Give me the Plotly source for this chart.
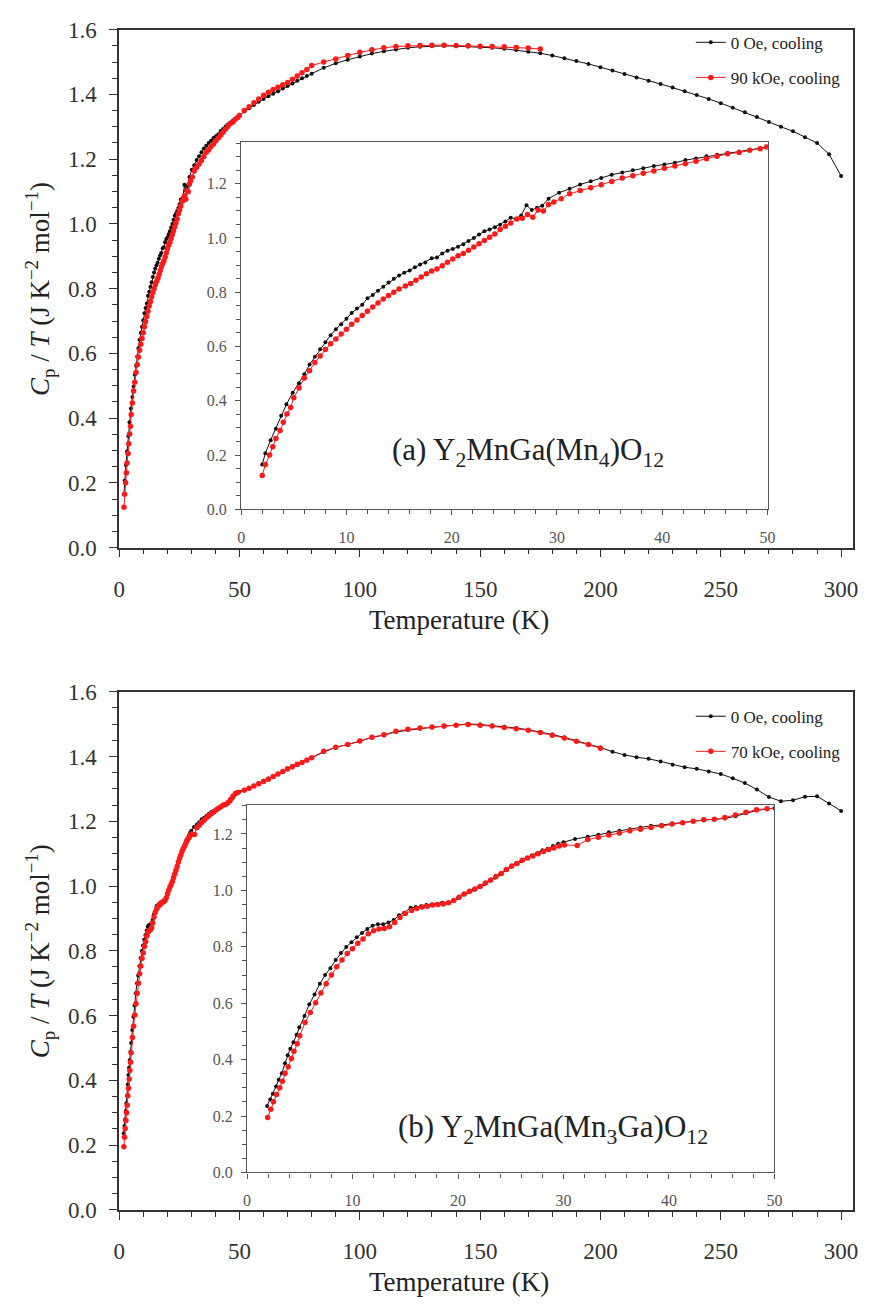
import plotly.graph_objects as go

# ---------------- Panel (a): Y2MnGa(Mn4)O12 ----------------
# 0 Oe, cooling
T_A_ZERO = [2.0, 2.3, 2.8, 3.3, 3.8, 4.3, 4.9, 5.5, 6.0, 6.5, 7.0, 7.5, 8.0, 8.5, 9.0, 9.5,
            10.0, 10.5, 11.0, 11.5, 12.0, 12.5, 13.0, 13.5, 14.0, 14.5, 15.0, 15.5, 16.0, 16.5,
            17.0, 17.5, 18.1, 18.6, 19.1, 19.6, 20.1, 20.6, 21.1, 21.6, 22.1, 22.6, 23.1, 23.6,
            24.1, 24.6, 25.1, 25.6, 26.1, 26.6, 27.1, 27.6, 28.1, 28.6, 29.2, 30.2, 31.2, 32.2,
            33.2, 34.2, 35.2, 36.2, 37.2, 38.2, 39.2, 40.2, 41.2, 42.2, 43.2, 44.2, 45.2, 46.2,
            47.3, 48.3, 49.3, 50.0, 52, 54, 56, 58, 60, 62, 64, 66, 68, 70, 72, 74, 76, 78, 80,
            85, 90, 95, 100, 105, 110, 115, 120, 125, 130, 135, 140, 145, 150, 155, 160, 165,
            170, 175, 180, 185, 190, 195, 200, 205, 210, 215, 220, 225, 230, 235, 240, 245, 250,
            255, 260, 265, 270, 275, 280, 285, 290, 295, 300]
CP_A_ZERO = [0.165, 0.207, 0.255, 0.297, 0.345, 0.387, 0.430, 0.465, 0.498, 0.534, 0.562, 0.590,
             0.616, 0.642, 0.664, 0.682, 0.702, 0.724, 0.740, 0.754, 0.778, 0.790, 0.806, 0.820,
             0.836, 0.850, 0.862, 0.872, 0.880, 0.892, 0.902, 0.910, 0.925, 0.928, 0.943, 0.953,
             0.959, 0.968, 0.977, 0.989, 1.000, 1.013, 1.025, 1.031, 1.040, 1.049, 1.061, 1.075,
             1.070, 1.083, 1.121, 1.103, 1.111, 1.119, 1.145, 1.167, 1.181, 1.197, 1.209, 1.221,
             1.233, 1.241, 1.250, 1.257, 1.265, 1.271, 1.277, 1.287, 1.293, 1.301, 1.307, 1.313,
             1.319, 1.325, 1.331, 1.337, 1.347, 1.357, 1.367, 1.377, 1.386, 1.394, 1.402, 1.410,
             1.418, 1.426, 1.434, 1.442, 1.450, 1.457, 1.464, 1.482, 1.496, 1.507, 1.517, 1.526,
             1.533, 1.539, 1.544, 1.547, 1.549, 1.550, 1.549, 1.548, 1.546, 1.544, 1.541, 1.537,
             1.532, 1.527, 1.520, 1.512, 1.503, 1.494, 1.484, 1.474, 1.463, 1.452, 1.442, 1.432,
             1.421, 1.410, 1.398, 1.386, 1.373, 1.359, 1.345, 1.330, 1.315, 1.300, 1.286, 1.268,
             1.250, 1.215, 1.148]

# 90 kOe, cooling
T_A_FIELD = [2.0, 2.3, 2.7, 3.0, 3.3, 3.7, 4.0, 4.35, 4.7, 5.0, 5.5, 6.0, 6.5, 7.0, 7.5, 8.0,
             8.5, 9.0, 9.5, 10.0, 10.5, 11.0, 11.5, 12.0, 12.5, 13.0, 13.5, 14.0, 14.5, 15.0,
             15.6, 16.1, 16.6, 17.1, 17.6, 18.1, 18.6, 19.1, 19.6, 20.1, 20.6, 21.1, 21.6, 22.1,
             22.6, 23.1, 23.6, 24.1, 24.6, 25.1, 25.6, 26.2, 26.7, 27.2, 27.7, 28.2, 28.7, 29.2,
             29.7, 30.4, 31.2, 32.2, 33.2, 34.2, 35.2, 36.2, 37.2, 38.2, 39.2, 40.2, 41.2, 42.2,
             43.2, 44.2, 45.2, 46.2, 47.3, 48.3, 49.3, 49.9, 52, 54, 56, 58, 60, 62, 64, 66, 68,
             70, 72, 74, 76, 78, 80, 85, 90, 95, 100, 105, 110, 115, 120, 125, 130, 135, 140,
             145, 150, 155, 160, 165, 170, 175]
CP_A_FIELD = [0.125, 0.165, 0.200, 0.231, 0.261, 0.291, 0.321, 0.351, 0.375, 0.411, 0.447, 0.484,
              0.511, 0.541, 0.565, 0.589, 0.610, 0.628, 0.646, 0.664, 0.682, 0.698, 0.714, 0.730,
              0.746, 0.760, 0.775, 0.788, 0.800, 0.812, 0.823, 0.832, 0.844, 0.856, 0.868, 0.878,
              0.886, 0.898, 0.911, 0.923, 0.935, 0.943, 0.955, 0.967, 0.979, 0.991, 1.003, 1.015,
              1.031, 1.043, 1.055, 1.070, 1.073, 1.087, 1.076, 1.103, 1.099, 1.123, 1.133, 1.145,
              1.163, 1.175, 1.185, 1.196, 1.208, 1.221, 1.229, 1.239, 1.247, 1.257, 1.265, 1.274,
              1.283, 1.292, 1.301, 1.310, 1.315, 1.323, 1.329, 1.335, 1.350, 1.362, 1.374, 1.386,
              1.397, 1.407, 1.415, 1.422, 1.430, 1.437, 1.447, 1.457, 1.467, 1.477, 1.489, 1.500,
              1.509, 1.520, 1.530, 1.538, 1.544, 1.548, 1.550, 1.551, 1.552, 1.552, 1.551, 1.550,
              1.549, 1.548, 1.547, 1.545, 1.543, 1.540]

# ---------------- Panel (b): Y2MnGa(Mn3Ga)O12 ----------------
# 0 Oe, cooling
T_B_ZERO = [1.9, 2.2, 2.45, 2.75, 3.0, 3.3, 3.6, 3.85, 4.1, 4.4, 4.7, 4.95, 5.45, 5.9, 6.4, 6.9,
            7.4, 7.9, 8.4, 8.9, 9.4, 9.9, 10.4, 10.9, 11.4, 11.9, 12.4, 12.9, 13.4, 13.9, 14.4,
            14.9, 15.5, 16.0, 16.5, 17.0, 17.5, 18.0, 18.5, 19.0, 19.5, 20.0, 20.5, 21.0, 21.5,
            22.0, 22.5, 23.0, 23.5, 24.0, 24.5, 25.0, 25.5, 26.0, 26.5, 27.0, 27.5, 28.0, 28.5,
            29.0, 29.5, 30.0, 31.1, 32.3, 33.3, 34.3, 35.3, 36.3, 37.3, 38.3, 39.3, 40.3, 41.3,
            42.3, 43.3, 44.3, 45.3, 46.3, 47.3, 48.3, 49.3, 50.0, 52, 54, 56, 58, 60, 62, 64, 66,
            68, 70, 72, 74, 76, 78, 80, 85, 90, 95, 100, 105, 110, 115, 120, 125, 130, 135, 140,
            145, 150, 155, 160, 165, 170, 175, 180, 185, 190, 195, 200, 205, 210, 215, 220, 225,
            230, 235, 240, 245, 250, 255, 260, 265, 270, 275, 280, 285, 290, 295, 300]
CP_B_ZERO = [0.236, 0.259, 0.279, 0.305, 0.329, 0.352, 0.387, 0.416, 0.439, 0.462, 0.488, 0.515,
             0.555, 0.596, 0.631, 0.669, 0.700, 0.724, 0.753, 0.778, 0.799, 0.816, 0.834, 0.849,
             0.863, 0.875, 0.880, 0.880, 0.886, 0.895, 0.912, 0.921, 0.938, 0.941, 0.944, 0.948,
             0.950, 0.952, 0.956, 0.956, 0.962, 0.973, 0.985, 0.994, 1.002, 1.012, 1.022, 1.034,
             1.045, 1.057, 1.072, 1.084, 1.095, 1.103, 1.115, 1.124, 1.132, 1.142, 1.148, 1.157,
             1.165, 1.171, 1.182, 1.190, 1.197, 1.206, 1.211, 1.217, 1.223, 1.229, 1.232, 1.237,
             1.240, 1.245, 1.249, 1.252, 1.255, 1.263, 1.273, 1.283, 1.289, 1.291, 1.296, 1.302,
             1.310, 1.318, 1.325, 1.332, 1.339, 1.346, 1.353, 1.360, 1.366, 1.373, 1.380, 1.388,
             1.396, 1.414, 1.428, 1.437, 1.447, 1.459, 1.466, 1.476, 1.482, 1.486, 1.490, 1.493,
             1.497, 1.501, 1.499, 1.496, 1.492, 1.488, 1.483, 1.476, 1.468, 1.459, 1.449, 1.439,
             1.428, 1.415, 1.405, 1.398, 1.393, 1.385, 1.375, 1.367, 1.362, 1.354, 1.346, 1.333,
             1.318, 1.298, 1.275, 1.262, 1.265, 1.276, 1.277, 1.255, 1.232]

# 70 kOe, cooling
T_B_FIELD = [1.95, 2.25, 2.5, 2.8, 3.1, 3.35, 3.6, 3.9, 4.2, 4.45, 4.75, 5.0, 5.5, 6.0, 6.5, 7.0,
             7.5, 8.0, 8.5, 9.0, 9.5, 10.0, 10.5, 11.0, 11.5, 12.0, 12.5, 13.0, 13.5, 14.0, 14.5,
             15.0, 15.6, 16.1, 16.6, 17.1, 17.6, 18.1, 18.6, 19.1, 19.6, 20.1, 20.6, 21.1, 21.6,
             22.1, 22.6, 23.1, 23.6, 24.1, 24.6, 25.1, 25.6, 26.1, 26.6, 27.1, 27.6, 28.1, 28.6,
             29.1, 29.6, 30.1, 31.3, 32.3, 33.3, 34.3, 35.3, 36.3, 37.3, 38.3, 39.3, 40.3, 41.3,
             42.3, 43.3, 44.3, 45.3, 46.3, 47.3, 48.3, 49.3, 52, 54, 56, 58, 60, 62, 64, 66, 68,
             70, 72, 74, 76, 78, 80, 85, 90, 95, 100, 105, 110, 115, 120, 125, 130, 135, 140,
             145, 150, 155, 160, 165, 170, 175, 180, 185, 190, 195, 200]
CP_B_FIELD = [0.195, 0.224, 0.251, 0.276, 0.300, 0.323, 0.352, 0.375, 0.404, 0.430, 0.456, 0.485,
              0.532, 0.567, 0.602, 0.636, 0.669, 0.700, 0.729, 0.753, 0.776, 0.793, 0.813, 0.828,
              0.846, 0.857, 0.863, 0.865, 0.871, 0.886, 0.904, 0.918, 0.929, 0.936, 0.941, 0.944,
              0.948, 0.950, 0.952, 0.956, 0.964, 0.976, 0.987, 0.997, 1.005, 1.014, 1.026, 1.037,
              1.049, 1.060, 1.074, 1.086, 1.095, 1.107, 1.115, 1.122, 1.130, 1.138, 1.145, 1.150,
              1.157, 1.161, 1.159, 1.180, 1.188, 1.196, 1.203, 1.211, 1.217, 1.223, 1.229, 1.235,
              1.240, 1.245, 1.250, 1.252, 1.258, 1.267, 1.277, 1.286, 1.289, 1.296, 1.302, 1.309,
              1.316, 1.323, 1.330, 1.338, 1.346, 1.354, 1.362, 1.369, 1.376, 1.382, 1.389, 1.396,
              1.416, 1.429, 1.437, 1.448, 1.460, 1.467, 1.478, 1.484, 1.488, 1.491, 1.494, 1.497,
              1.499, 1.497, 1.494, 1.490, 1.486, 1.481, 1.474, 1.466, 1.457, 1.447, 1.437, 1.426]

LEGEND_A = ["0 Oe, cooling", "90 kOe, cooling"]
LEGEND_B = ["0 Oe, cooling", "70 kOe, cooling"]
LABEL_A = "(a) Y<sub>2</sub>MnGa(Mn<sub>4</sub>)O<sub>12</sub>"
LABEL_B = "(b) Y<sub>2</sub>MnGa(Mn<sub>3</sub>Ga)O<sub>12</sub>"
Y_TITLE = "<i>C</i><sub>p</sub> / <i>T</i> (J K<sup>\u22122</sup> mol<sup>\u22121</sup>)"
X_TITLE = "Temperature (K)"

W, H = 870, 1313
SERIF = "Liberation Serif, Times New Roman, Tinos, DejaVu Serif, serif"
BLACK = "#111111"
RED = "#ff1a1a"


def px(x):
    return x / W


def py(y):
    return 1 - y / H


fig = go.Figure()


def add_pair(t0, c0, t1, c1, xa, ya, legend_name, names, show):
    fig.add_trace(go.Scatter(
        x=t0, y=c0, mode="lines+markers", name=names[0], xaxis=xa, yaxis=ya,
        line=dict(color=BLACK, width=1), marker=dict(color=BLACK, size=4),
        legend=legend_name, legendgroup=legend_name + "0", showlegend=show))
    fig.add_trace(go.Scatter(
        x=t1, y=c1, mode="lines+markers", name=names[1], xaxis=xa, yaxis=ya,
        line=dict(color=RED, width=1), marker=dict(color=RED, size=5.5),
        legend=legend_name, legendgroup=legend_name + "1", showlegend=show))


add_pair(T_A_ZERO, CP_A_ZERO, T_A_FIELD, CP_A_FIELD, "x", "y", "legend", LEGEND_A, True)
add_pair(T_A_ZERO, CP_A_ZERO, T_A_FIELD, CP_A_FIELD, "x2", "y2", "legend", LEGEND_A, False)
add_pair(T_B_ZERO, CP_B_ZERO, T_B_FIELD, CP_B_FIELD, "x3", "y3", "legend2", LEGEND_B, True)
add_pair(T_B_ZERO, CP_B_ZERO, T_B_FIELD, CP_B_FIELD, "x4", "y4", "legend2", LEGEND_B, False)


def main_x(domain, anchor):
    return dict(domain=domain, anchor=anchor, range=[0, 305], dtick=50, tick0=0,
                showline=True, linecolor="#333", linewidth=1.5, mirror=True,
                ticks="outside", ticklen=8, tickwidth=1.3, tickcolor="#333",
                minor=dict(dtick=10, ticks="outside", ticklen=5, tickcolor="#333", tickwidth=1),
                tickfont=dict(family=SERIF, size=23, color="#333"), ticklabelstandoff=12,
                showgrid=False, zeroline=False)


def main_y(domain, anchor):
    return dict(domain=domain, anchor=anchor, range=[0, 1.6], dtick=0.2, tick0=0,
                tickformat=".1f", showline=True, linecolor="#333", linewidth=1.5, mirror=True,
                ticks="outside", ticklen=8, tickwidth=1.3, tickcolor="#333",
                minor=dict(dtick=0.05, ticks="outside", ticklen=5, tickcolor="#333", tickwidth=1),
                tickfont=dict(family=SERIF, size=23, color="#333"), ticklabelstandoff=8,
                showgrid=False, zeroline=False)


def inset_x(domain, anchor):
    return dict(domain=domain, anchor=anchor, range=[0, 50], dtick=10, tick0=0,
                showline=True, linecolor="#555", linewidth=1.2, mirror=True,
                ticks="outside", ticklen=5, tickwidth=1, tickcolor="#555",
                minor=dict(dtick=2, ticks="outside", ticklen=4, tickcolor="#555", tickwidth=1),
                tickfont=dict(family=SERIF, size=16, color="#555"), ticklabelstandoff=8,
                showgrid=False, zeroline=False)


def inset_y(domain, anchor, top):
    return dict(domain=domain, anchor=anchor, range=[0, top], dtick=0.2, tick0=0,
                tickformat=".1f", showline=True, linecolor="#555", linewidth=1.2, mirror=True,
                ticks="outside", ticklen=5, tickwidth=1, tickcolor="#555",
                minor=dict(dtick=0.05, ticks="outside", ticklen=4, tickcolor="#555", tickwidth=1),
                tickfont=dict(family=SERIF, size=16, color="#555"), ticklabelstandoff=5,
                showgrid=False, zeroline=False)


def legend_box(top):
    return dict(x=px(696), y=py(top), xanchor="left", yanchor="top",
                bgcolor="rgba(0,0,0,0)", itemwidth=30, tracegroupgap=10,
                font=dict(family=SERIF, size=17, color="#222"))


fig.update_layout(
    width=W, height=H, margin=dict(l=0, r=0, t=0, b=0),
    paper_bgcolor="white", plot_bgcolor="white",
    font=dict(family=SERIF),
    xaxis=main_x([px(115), px(861)], "y"),
    yaxis=main_y([py(546), py(18)], "x"),
    xaxis2=inset_x([px(239), px(774)], "y2"),
    yaxis2=inset_y([py(507), py(133)], "x2", 1.352),
    xaxis3=main_x([px(115), px(861)], "y3"),
    yaxis3=main_y([py(1221), py(693)], "x3"),
    xaxis4=inset_x([px(245), px(781)], "y4"),
    yaxis4=inset_y([py(1183), py(808)], "x4", 1.304),
    legend=legend_box(13),
    legend2=legend_box(700),
)

annotations = []
for yc in (282, 957):
    annotations.append(dict(text=Y_TITLE, x=px(34), y=py(yc), xref="paper", yref="paper",
                            showarrow=False, textangle=-90, xanchor="center", yanchor="middle",
                            font=dict(family=SERIF, size=27, color="#222")))
for yc in (620, 1295):
    annotations.append(dict(text=X_TITLE, x=px(460), y=py(yc), xref="paper", yref="paper",
                            showarrow=False, xanchor="center", yanchor="middle",
                            font=dict(family=SERIF, size=27, color="#222")))
annotations.append(dict(text=LABEL_A, x=27.2, y=0.21, xref="x2", yref="y2", showarrow=False,
                        xanchor="center", yanchor="middle",
                        font=dict(family=SERIF, size=31, color="#222")))
annotations.append(dict(text=LABEL_B, x=29.0, y=0.155, xref="x4", yref="y4", showarrow=False,
                        xanchor="center", yanchor="middle",
                        font=dict(family=SERIF, size=31, color="#222")))
fig.update_layout(annotations=annotations)

fig.write_html("out.html")
